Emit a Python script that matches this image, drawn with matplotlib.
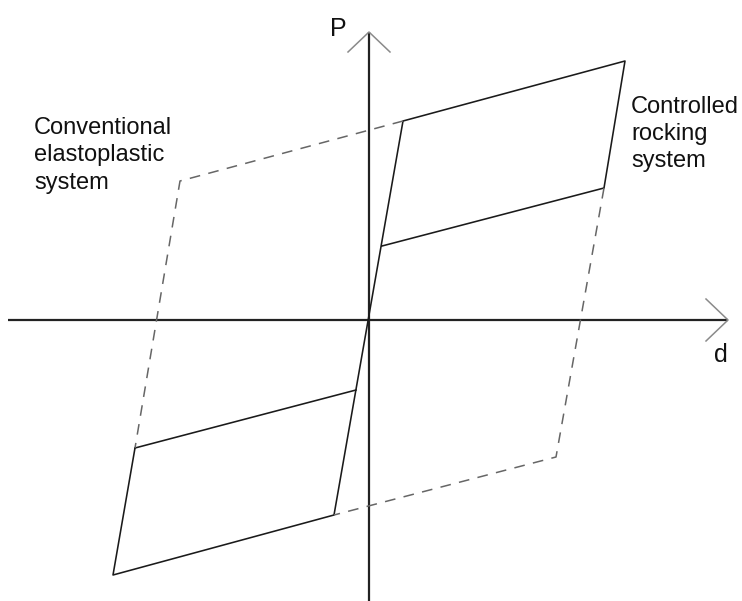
import matplotlib.pyplot as plt

# corner points of the loops (d, P), origin at the axis crossing
rock_d = [-234, -256, -35, 34, 256, 235, 13]
rock_P = [-128, -255, -195, 199, 259, 132, 74]
flag_d = [-13, -234]
flag_P = [-70, -128]

ep_upper_d = [34, -189, -234]
ep_upper_P = [199, 139, -128]
ep_lower_d = [235, 187, -35]
ep_lower_P = [132, -137, -195]

plt.rcParams['font.family'] = ['Liberation Sans', 'DejaVu Sans']

fig = plt.figure(figsize=(7.42, 6.01), dpi=100)
ax = fig.add_axes([0, 0, 1, 1])
ax.set_xlim(-369, 373)
ax.set_ylim(-281, 320)
ax.axis('off')

# axes with open arrow heads
ax.plot([-361, 359], [0, 0], color='#222222', lw=1.6, solid_capstyle='butt')
ax.plot([0, 0], [-281, 288], color='#222222', lw=1.6, solid_capstyle='butt')
ax.plot([337, 359, 337], [21, 0, -21], color='#8a8a8a', lw=1.1)
ax.plot([-21, 0, 21], [268, 288, 268], color='#8a8a8a', lw=1.1)

# controlled rocking system (solid)
ax.plot(rock_d, rock_P, color='#1a1a1a', lw=1.15)
ax.plot(flag_d, flag_P, color='#1a1a1a', lw=1.15)

# conventional elastoplastic system (dashed)
for xs, ys in [(ep_upper_d, ep_upper_P), (ep_lower_d, ep_lower_P)]:
    ax.plot(xs, ys, color='#666666', lw=1.1, dashes=(7, 5.5))

ax.text(-31, 291, 'P', fontsize=18, ha='center', va='center', color='#111111')
ax.text(352, -35, 'd', fontsize=18, ha='center', va='center', color='#111111')
ax.text(-335, 203, 'Conventional\nelastoplastic\nsystem', fontsize=17,
        ha='left', va='top', linespacing=1.32, color='#111111')
ax.text(262, 224, 'Controlled\nrocking\nsystem', fontsize=17,
        ha='left', va='top', linespacing=1.3, color='#111111')

fig.savefig('out.png', dpi=100)
